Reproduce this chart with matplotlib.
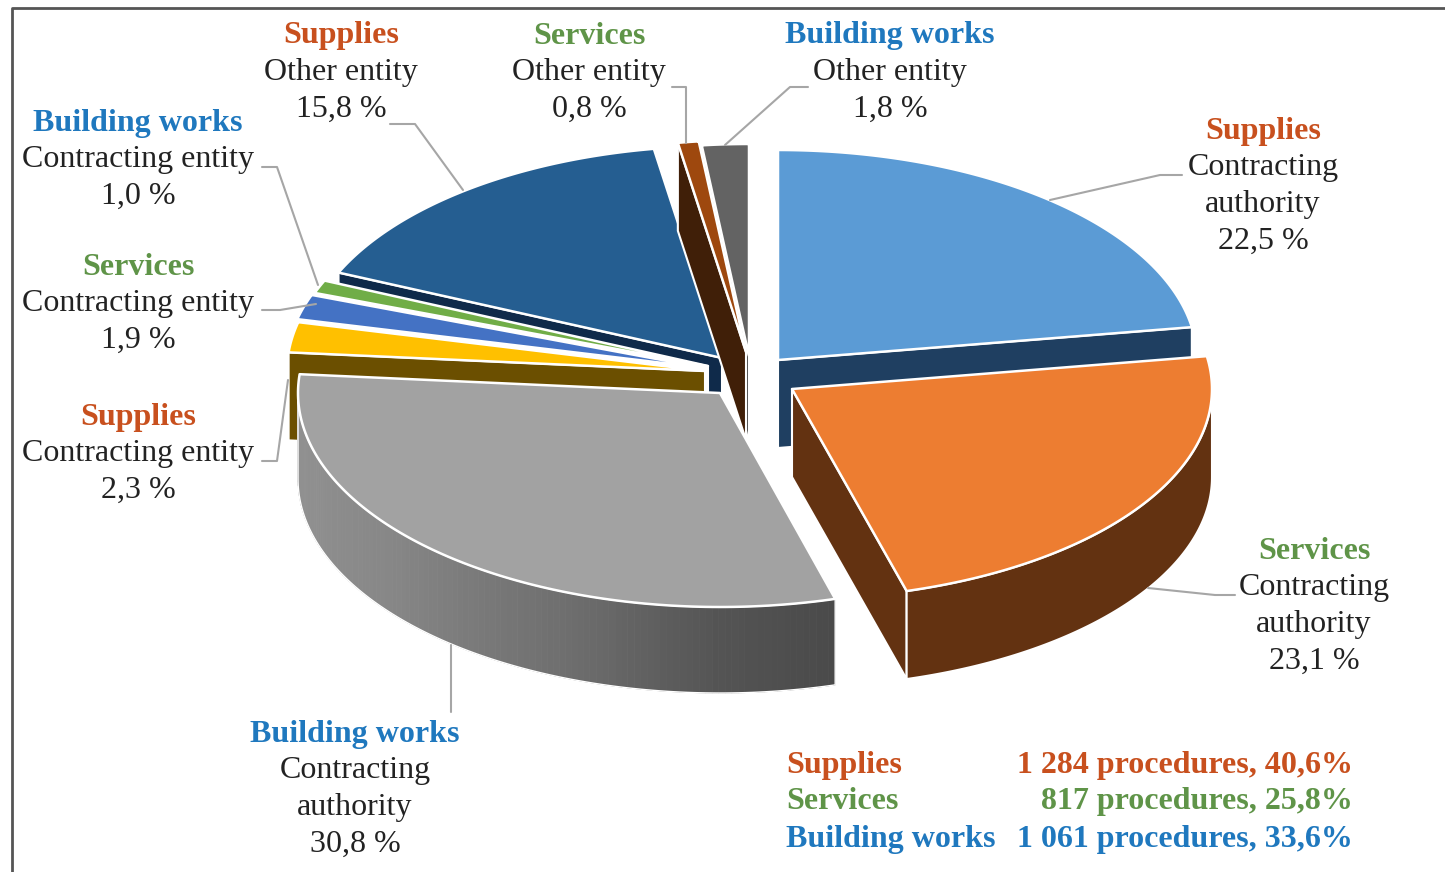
import numpy as np
import matplotlib
matplotlib.use('Agg')
import matplotlib.pyplot as plt
from matplotlib.patches import Polygon

# pie data, clockwise from 12 o'clock
kinds = ['Supplies', 'Services', 'Building works', 'Supplies', 'Services', 'Building works',
         'Supplies', 'Services', 'Building works']
owners = [['Contracting', 'authority'], ['Contracting', 'authority'], ['Contracting', 'authority'],
          ['Contracting entity'], ['Contracting entity'], ['Contracting entity'],
          ['Other entity'], ['Other entity'], ['Other entity']]
shares = [22.5, 23.1, 30.8, 2.3, 1.9, 1.0, 15.8, 0.8, 1.8]
share_labels = ['22,5 %', '23,1 %', '30,8 %', '2,3 %', '1,9 %', '1,0 %', '15,8 %', '0,8 %', '1,8 %']

totals_kind = ['Supplies', 'Services', 'Building works']
totals_text = ['1 284 procedures, 40,6%', '817 procedures, 25,8%', '1 061 procedures, 33,6%']

# layout, pixels of the picture
top_cols = ['#5B9BD5', '#ED7D31', '#A2A2A2', '#FFC000', '#4472C4', '#70AD47', '#255E91', '#9E480E', '#636363']
wall_cols = ['#1F3F61', '#633211', '#808080', '#6B4F00', 'white', 'white', '#0F2A4A', '#401F08', '#4A4A4A']
cx = [778, 792, 720, 705, 705, 708, 722, 746, 749]
cy = [360, 389, 393, 371, 368, 366, 358, 352, 356]
rx = [419, 420, 422, 418, 419, 419, 419, 419, 419]
ry = [210, 210, 214, 212, 212, 212, 212, 212, 212]
depth = [88, 88, 86, 88, 88, 88, 88, 88, 88]
draw_order = [6, 8, 7, 5, 4, 3, 0, 2, 1]

kind_cols = {'Supplies': '#C8501E', 'Services': '#5F9448', 'Building works': '#1F78BE'}
label_x = [1263, 1314, 355, 138, 138, 138, 341, 589, 890]
label_y = [128, 548, 731, 414, 264, 120, 33, 33, 33]
line_gap = 36.8
text_drop = 3
leaders = [[(1182, 175), (1160, 175), (1050, 200)],
           [(1235, 595), (1215, 595), (1148, 588)],
           [(451, 712), (451, 645)],
           [(262, 461), (277, 461), (288, 380)],
           [(262, 310), (280, 310), (316, 304)],
           [(262, 167), (277, 167), (318, 285)],
           [(390, 124), (415, 124), (463, 190)],
           [(672, 87), (686, 87), (686, 143)],
           [(808, 87), (790, 87), (725, 145)]]

fsize = 23

plt.rcParams['font.family'] = ['Liberation Serif', 'DejaVu Serif']

fig = plt.figure(figsize=(14.45, 8.72), dpi=100)
ax = fig.add_axes([0, 0, 1, 1])
ax.set_xlim(0, 1445)
ax.set_ylim(872, 0)
ax.axis('off')


def rim(i, deg):
    t = np.radians(deg)
    return np.column_stack([cx[i] + rx[i] * np.sin(t), cy[i] - ry[i] * np.cos(t)])


def radial_wall(i, deg):
    p = rim(i, deg)[0]
    pts = [(cx[i], cy[i]), p, (p[0], p[1] + depth[i]), (cx[i], cy[i] + depth[i])]
    ax.add_patch(Polygon(pts, fc=wall_cols[i], ec='white', lw=1.5, joinstyle='round'))


edges = np.concatenate([[0], np.cumsum(shares)]) * 3.6

for i in draw_order:
    a0, a1 = edges[i], edges[i + 1]

    # cut faces, only those turned to the viewer
    if np.cos(np.radians(a0 - 90)) < -0.01:
        radial_wall(i, a0)
    if np.cos(np.radians(a1 + 90)) < -0.01:
        radial_wall(i, a1)

    # outer wall, only the front half
    w0, w1 = max(a0, 90), min(a1, 270)
    if w1 > w0:
        t = np.linspace(w0, w1, 120)
        p = rim(i, t)
        down = (0, depth[i])
        outline = np.vstack([p, p[::-1] + down])
        if i == 2:
            # the big grey wall is shaded from left to right
            shade = np.interp(t, [164, 180, 200, 231, 253, 270], [0.29, 0.33, 0.43, 0.53, 0.56, 0.57])
            for k in range(len(t) - 1):
                quad = [p[k], p[k + 1], p[k + 1] + down, p[k] + down]
                ax.add_patch(Polygon(quad, fc=str(shade[k]), ec=str(shade[k]), lw=0.6))
            ax.add_patch(Polygon(outline, fc='none', ec='white', lw=1.0))
        else:
            ax.add_patch(Polygon(outline, fc=wall_cols[i], ec='white', lw=1.5))

    # top face
    t = np.linspace(a0, a1, 120)
    pts = np.vstack([[(cx[i], cy[i])], rim(i, t)])
    ax.add_patch(Polygon(pts, fc=top_cols[i], ec='white', lw=1.8, joinstyle='round'))

# leader lines
for pts in leaders:
    xs, ys = zip(*pts)
    ax.plot(xs, ys, color='#A6A6A6', lw=1.5, solid_capstyle='round')

# slice labels
for i in range(len(shares)):
    y = label_y[i] + text_drop
    ax.text(label_x[i], y, kinds[i], color=kind_cols[kinds[i]], fontsize=fsize, fontweight='bold',
            ha='center', va='center')
    for line in owners[i] + [share_labels[i]]:
        y += line_gap
        ax.text(label_x[i], y, line, color='#222222', fontsize=fsize, ha='center', va='center')

# totals block
for kind, txt, y in zip(totals_kind, totals_text, [762, 798, 836]):
    y += text_drop
    ax.text(786, y, kind, color=kind_cols[kind], fontsize=fsize, fontweight='bold', ha='left', va='center')
    ax.text(1353, y, txt, color=kind_cols[kind], fontsize=fsize, fontweight='bold', ha='right', va='center')

# frame of the scan, top and left only
ax.plot([12, 12, 1445], [872, 8, 8], color='#555555', lw=2, clip_on=False)

fig.savefig('out.png', dpi=100, facecolor='white')
